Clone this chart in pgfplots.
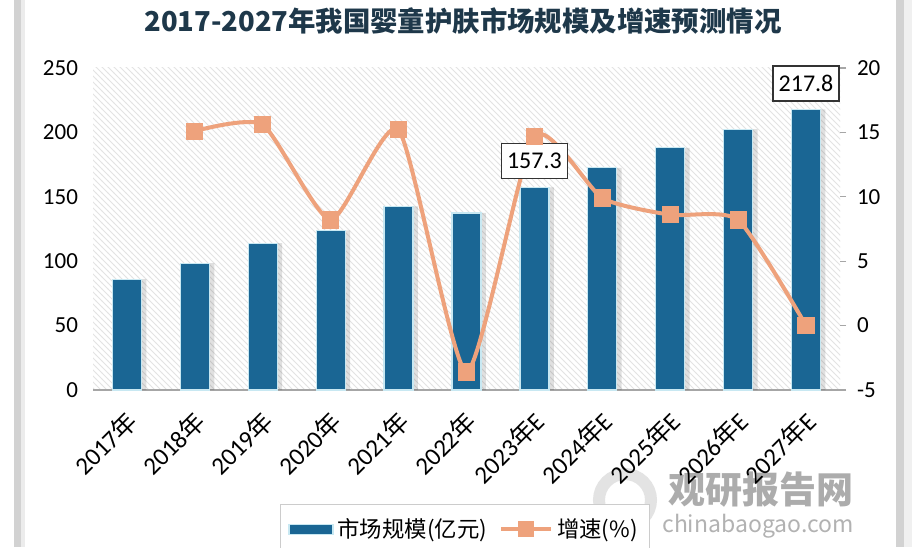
\documentclass[border=0pt]{standalone}
\usepackage{pgfplots}
\pgfplotsset{compat=1.18}
\usepackage{fontspec}
\setmainfont{Carlito}
\newfontfamily\cjk{Noto Sans CJK SC}
\usetikzlibrary{patterns}
\definecolor{barblue}{RGB}{26,102,148}
\definecolor{lineor}{RGB}{238,162,124}
\definecolor{titlec}{RGB}{30,56,74}
\definecolor{bedge}{RGB}{200,232,242}
\pgfplotsset{
  barlegend/.style={legend image code/.code={\fill[##1] (0pt,-2.6pt) rectangle (22pt,2.6pt);}},
  linelegend/.style={legend image code/.code={\draw[mark repeat=2,mark phase=2,##1] plot coordinates {(0pt,0pt) (12.5pt,0pt) (25pt,0pt)};}},
}
\begin{document}
\begin{tikzpicture}
\useasboundingbox (0,0) rectangle (461pt,273.5pt);
\clip (0,0) rectangle (461pt,273.5pt);
\fill[white] (0,0) rectangle (461pt,273.5pt);
\begin{scope}[x=0.5pt,y=-0.5pt,shift={(0pt,273.5pt)}]
  \fill[gray!35] (14,0) rectangle (21,547);
  \fill[gray!15] (21,0) rectangle (25,547);
  \fill[gray!35] (896,0) rectangle (904,547);
  \fill[gray!12] (904,0) rectangle (912,547);
  \node[font=\cjk\bfseries\fontsize{13.7}{16}\selectfont, text=titlec] at (463,21) {2017-2027年我国婴童护肤市场规模及增速预测情况};
  \draw[gray!22, line width=6pt] (625,500) circle (26);
  \node[font=\cjk\bfseries\fontsize{18.5}{20}\selectfont, text=gray!65] at (761,490) {观研报告网};
  \node[font=\cjk\fontsize{11.5}{13}\selectfont, text=gray!60] at (758,526) {chinabaogao.com};
\end{scope}
\begin{axis}[
  at={(46.5pt,78.5pt)}, anchor=south west,
  scale only axis, width=373.5pt, height=161pt,
  xmin=-0.5, xmax=10.5, ymin=0, ymax=250,
  axis x line*=bottom, axis y line*=left,
  x axis line style={draw=gray!70, line width=0.8pt, -},
  y axis line style={draw=none},
  xtick={0,1,2,3,4,5,6,7,8,9,10},
  xticklabels={2017{\cjk 年},2018{\cjk 年},2019{\cjk 年},2020{\cjk 年},2021{\cjk 年},2022{\cjk 年},2023{\cjk 年}E,2024{\cjk 年}E,2025{\cjk 年}E,2026{\cjk 年}E,2027{\cjk 年}E},
  ytick={0,50,100,150,200,250},
  major tick length=0pt,
  tick label style={font=\fontsize{11.5}{13}\selectfont},
  /pgf/number format/assume math mode=true,
  x tick label style={rotate=45, anchor=north east, xshift=-4pt, yshift=-2pt, font=\fontsize{12.5}{14}\selectfont},
  yticklabel style={xshift=-4pt},
  axis background/.style={pattern=north west lines, pattern color=gray!22},
  clip=false,
  legend style={at={(axis description cs:0.2503,-0.354)}, anchor=north west, draw=gray!40, fill=white, font=\cjk\fontsize{11.2}{13}\selectfont, legend columns=2, inner xsep=4pt, inner ysep=5pt, /tikz/every even column/.append style={column sep=4pt}},
]
\addplot[ybar, bar width=15pt, bar shift=2.2pt, fill=black, fill opacity=0.12, draw=none, forget plot] coordinates {(0,86) (1,98.5) (2,114) (3,124) (4,142.5) (5,137.5) (6,157.3) (7,172.5) (8,188) (9,202.5) (10,217.8)};
\addplot[ybar, bar width=14.5pt, bar shift=0pt, fill=barblue, draw=bedge, line width=0.6pt, barlegend] coordinates {(0,86) (1,98.5) (2,114) (3,124) (4,142.5) (5,137.5) (6,157.3) (7,172.5) (8,188) (9,202.5) (10,217.8)};
\addlegendentry{市场规模(亿元)}
\addlegendimage{lineor, line width=2pt, mark=square*, mark size=3pt, mark options={fill=lineor,draw=lineor}, linelegend}
\addlegendentry{增速(\%)}
\end{axis}
\begin{axis}[
  at={(46.5pt,78.5pt)}, anchor=south west,
  scale only axis, width=373.5pt, height=161pt,
  xmin=-0.5, xmax=10.5, ymin=-5, ymax=20,
  axis y line*=right, axis x line=none,
  y axis line style={draw=none},
  ytick={-5,0,5,10,15,20},
  tick align=outside, major tick length=3pt,
  tick style={gray!70, line width=0.6pt},
  tick label style={font=\fontsize{11.5}{13}\selectfont},
  /pgf/number format/assume math mode=true,
  yticklabel style={xshift=2pt},
  clip=false,
]
\addplot[lineor, line width=2pt, smooth, tension=0.35, mark=square*, mark size=3.3pt, mark options={fill=lineor, draw=lineor, solid}] coordinates {(1,15.1) (2,15.6) (3,8.2) (4,15.2) (5,-3.6) (6,14.7) (7,9.9) (8,8.6) (9,8.2) (10,0.0)};
\node[draw=black!80, fill=white, line width=0.6pt, font=\fontsize{12}{14}\selectfont, minimum width=33pt, minimum height=17.5pt, inner sep=2pt] at (axis cs:6,12.8) {157.3};
\node[draw=black!80, fill=white, line width=0.6pt, font=\fontsize{12}{14}\selectfont, minimum width=33pt, minimum height=17.5pt, inner sep=2pt] at (axis cs:10,18.8) {217.8};
\end{axis}
\end{tikzpicture}
\end{document}
